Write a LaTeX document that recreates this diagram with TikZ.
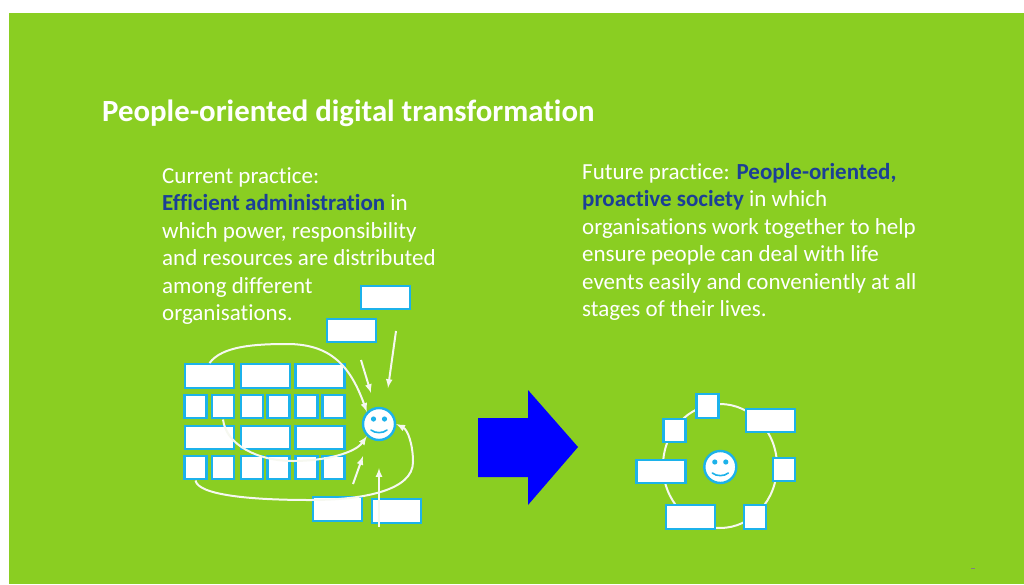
\documentclass[tikz,border=0pt]{standalone}
\usepackage{fontspec}
\setmainfont{Carlito}[Ligatures=NoCommon]
\definecolor{slidegreen}{HTML}{8ACE22}
\definecolor{boxblue}{HTML}{1CB2EA}
\definecolor{deepblue}{HTML}{1B3F96}
\definecolor{softwhite}{HTML}{F6F8F0}
\tikzset{
    widebox/.style={draw=boxblue, fill=white, line width=2.4pt, minimum width=49pt, minimum height=23.5pt, inner sep=0pt},
    smallbox/.style={widebox, minimum width=22pt},
    face/.style={draw=boxblue, fill=white, line width=2.4pt, circle, minimum size=32pt, inner sep=0pt},
    flow/.style={draw=softwhite, line width=2pt, -latex},
    slidetext/.style={text=white, align=left, anchor=north west, inner sep=0pt, font=\fontsize{23}{27.5}\selectfont}
}
\newcommand{\smiley}[2]{%
    \node[face] (#1) at (#2) {};
    \fill[boxblue] (#1.center) ++(-5.5,-5) circle (2.6) ++(11,0) circle (2.6);
    \draw[boxblue, line width=1.6pt, line cap=round] (#1.center) ++(-8,6) .. controls +(4,3.5) and +(-4,3.5) .. ++(16,0);
}
\begin{document}
\begin{tikzpicture}[x=1pt, y=-1pt]
    \useasboundingbox (0,0) rectangle (1024,584);
    % Slide background
    \fill[white] (0,0) rectangle (1024,584);
    \fill[slidegreen] (9,13) rectangle (1024,584);
    \fill[gray] (971,567.5) rectangle (975,568.5);

    % Texts
    \node[anchor=base west, inner sep=0pt, text=white, font=\fontsize{30.8}{34}\selectfont\bfseries] (title) at (102,121.5) {People-oriented digital transformation};
    \node[slidetext] (current) at (162,167) {Current practice:\\
        \textcolor{deepblue}{\textbf{Efficient administration}} in\\
        which power, responsibility\\
        and resources are distributed\\
        among different\\
        organisations.};
    \node[slidetext] (future) at (582,163) {Future practice: \textcolor{deepblue}{\textbf{People-oriented,}}\\
        \textcolor{deepblue}{\textbf{proactive society}} in which\\
        organisations work together to help\\
        ensure people can deal with life\\
        events easily and conveniently at all\\
        stages of their lives.};

    % Big arrow
    \fill[blue] (478,418) -- (528,418) -- (528,390) -- (578,447) -- (528,505) -- (528,477) -- (478,477) -- cycle;

    % Left block of organisations
    \node[widebox] (a1) at (209.5,376) {};
    \node[widebox] (a2) at (265.5,376) {};
    \node[widebox] (a3) at (320,376) {};
    \node[smallbox] (b1) at (195.5,406.5) {};
    \node[smallbox] (b2) at (223,406.5) {};
    \node[smallbox] (b3) at (252,406.5) {};
    \node[smallbox] (b4) at (278.5,406.5) {};
    \node[smallbox] (b5) at (306.5,406.5) {};
    \node[smallbox] (b6) at (333.5,406.5) {};
    \node[widebox] (c1) at (209.5,437.5) {};
    \node[widebox] (c2) at (265.5,437.5) {};
    \node[widebox] (c3) at (320,437.5) {};
    \node[smallbox] (d1) at (195.5,467.5) {};
    \node[smallbox] (d2) at (223,467.5) {};
    \node[smallbox] (d3) at (252,467.5) {};
    \node[smallbox] (d4) at (278.5,467.5) {};
    \node[smallbox] (d5) at (306.5,467.5) {};
    \node[smallbox] (d6) at (333.5,467.5) {};

    % Outer boxes
    \node[widebox] (top1) at (385.5,297.5) {};
    \node[widebox] (top2) at (351.5,330.5) {};
    \node[widebox] (low1) at (337.5,509) {};
    \node[widebox] (low2) at (396.5,511) {};

    \smiley{person}{379,424}

    % Arrow ends
    \coordinate (s1) at (361,360);
    \coordinate (e1) at (371,393);
    \coordinate (s2) at (396,331);
    \coordinate (e2) at (388,388);
    \coordinate (s3) at (353,484);
    \coordinate (e3) at (363,456);
    \coordinate (s4) at (379,527);
    \coordinate (e4) at (379,468);
    \draw[flow] (s1) -- (e1);
    \draw[flow] (s2) -- (e2);
    \draw[flow] (s3) -- (e3);
    \draw[flow] (s4) -- (e4);

    % Curved routes
    \draw[flow] (a1.north) .. controls (222,346) and (255,344) .. (287,344) .. controls (330,344) and (350,365) .. (person.north west);
    \draw[flow] (b2.south) .. controls (226,445) and (258,461) .. (293,461) .. controls (325,461) and (355,453) .. (person.south west);
    \draw[flow] (d1.south) .. controls (198,495) and (250,500) .. (310,500) .. controls (365,500) and (413,490) .. (413,462) .. controls (413,445) and (408,430) .. (person.east);

    % Right circle
    \draw[softwhite, line width=2pt] (720,466) ellipse (57 and 62);
    \node[smallbox] (r1) at (707.5,406) {};
    \node[smallbox] (r2) at (674.5,430.5) {};
    \node[widebox] (r3) at (770.5,420.5) {};
    \node[smallbox] (r4) at (784,469.5) {};
    \node[widebox] (r5) at (661,471.5) {};
    \node[widebox] (r6) at (690.5,517) {};
    \node[smallbox] (r7) at (755,517) {};
    \smiley{centre}{720.3,467}
\end{tikzpicture}
\end{document}
